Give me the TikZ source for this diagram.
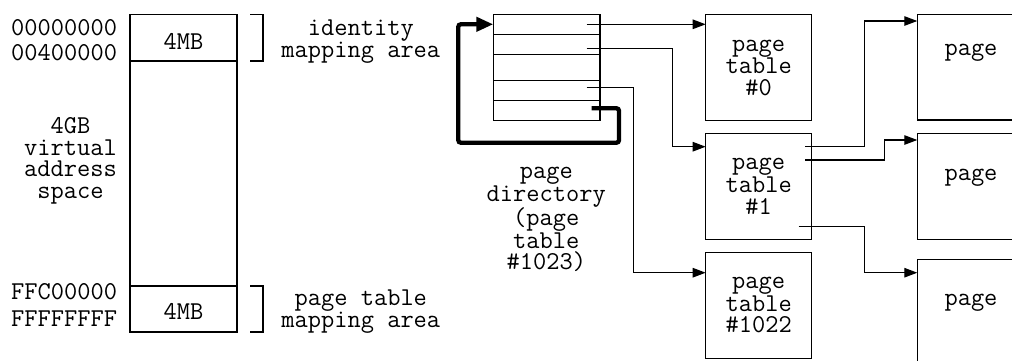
\documentclass[tikz,border=0pt]{standalone}
\usepackage{fontspec}
\usetikzlibrary{arrows.meta}
\newcommand\dgfont{\ttfamily\addfontfeatures{FakeBold=0.8}\fontsize{25.7pt}{21.5pt}\selectfont}
\begin{document}
\begin{tikzpicture}[x=1pt,y=-1pt,
  box/.style={draw,line width=1.4pt,inner sep=0pt,outer sep=0pt,anchor=north west,font=\dgfont,align=center},
  txt/.style={font=\dgfont,inner sep=0pt,outer sep=0pt,align=center},
  arr/.style={line width=1.2pt,-{Triangle[length=13pt,width=9.5pt]}},
  thickarr/.style={line width=4.3pt,rounded corners=2.5pt,-{Triangle[length=17pt,width=14pt]}},
  brk/.style={line width=1.4pt}]
\useasboundingbox (0,0) rectangle (1012,360);
% virtual address space
\node[box,minimum width=107pt,minimum height=46.7pt] (mbtop) at (130,14.3) {};
\node[box,minimum width=107pt,minimum height=225pt] (vmid) at (130,61) {};
\node[box,minimum width=107pt,minimum height=46pt] (mbbot) at (130,286) {};
\node[txt,anchor=base] (t4a) at (183.5,49) {4MB};
\node[txt,anchor=base] (t4b) at (183.5,319) {4MB};
\node[txt,anchor=base east] (a0) at (117,35) {00000000};
\node[txt,anchor=base east] (a1) at (117,60.7) {00400000};
\node[txt,anchor=base east] (a2) at (117,299.3) {FFC00000};
\node[txt,anchor=base east] (a3) at (117,326.7) {FFFFFFFF};
\node[txt] (vas) at (70.5,161) {4GB\\virtual\\address\\space};
% brackets
\draw[brk] (250,14.3) -- (263,14.3) -- (263,61) -- (250,61);
\draw[brk] (250,286) -- (263,286) -- (263,332) -- (250,332);
\node[txt] (ima) at (360.8,41.5) {identity\\mapping area};
\node[txt] (ptma) at (360.8,311.5) {page table\\mapping area};
% page directory
\node[box,minimum width=106.7pt,minimum height=20pt] (r1) at (493.3,14.3) {};
\node[box,minimum width=106.7pt,minimum height=20pt] (r2) at (493.3,34.3) {};
\node[box,minimum width=106.7pt,minimum height=26.4pt] (r3) at (493.3,54.3) {};
\node[box,minimum width=106.7pt,minimum height=20pt] (r4) at (493.3,80.7) {};
\node[box,minimum width=106.7pt,minimum height=20pt] (r5) at (493.3,100.7) {};
\node[txt] (pdl) at (546.3,219.5) {page\\directory\\(page\\table\\\#1023)};
% page tables
\node[box,minimum width=106pt,minimum height=106.4pt] (pt0) at (705.7,14.3) {page\\table\\\#0};
\node[box,minimum width=106pt,minimum height=106pt] (pt1) at (705.7,133.3) {page\\table\\\#1};
\node[box,minimum width=106pt,minimum height=106pt] (pt2) at (705.7,252.3) {page\\table\\\#1022};
% pages
\node[box,minimum width=130pt,minimum height=105.7pt] (p1) at (917.3,14.3) {};
\node[box,minimum width=130pt,minimum height=106pt] (p2) at (917.3,133.3) {};
\node[box,minimum width=130pt,minimum height=130pt] (p3) at (917.3,259.3) {};
\node[txt,anchor=base] (p1t) at (971,55) {page};
\node[txt,anchor=base] (p2t) at (971,180) {page};
\node[txt,anchor=base] (p3t) at (971,305) {page};
% connectors from page directory
\coordinate (s1) at (586.7,24.3);
\coordinate (s2) at (586.7,48.3);
\coordinate (s3) at (586.7,87.7);
\coordinate (s5) at (591.7,108.3);
\draw[arr] (s1) -- (s1 -| pt0.west);
\draw[arr] (s2) -| ++(85.6,98.4) -- ([yshift=-13.4pt]pt1.north west);
\draw[arr] (s3) -| ++(46.6,185) -- ([yshift=-20.4pt]pt2.north west);
\draw[thickarr] (s5) -- ++(27.3,0) -- ++(0,34.4) -- ++(-160.7,0) |- (r1.west);
% connectors from page table #1
\coordinate (u1) at (805,146.7);
\coordinate (u2) at (805,160);
\coordinate (u3) at (798.7,226.7);
\draw[arr] (u1) -- ++(59.3,0) |- ([yshift=-6.7pt]p1.north west);
\draw[arr] (u2) -- ++(79.3,0) |- ([yshift=-6.7pt]p2.north west);
\draw[arr] (u3) -- ++(65.6,0) |- ([yshift=-13.4pt]p3.north west);
\end{tikzpicture}
\end{document}
